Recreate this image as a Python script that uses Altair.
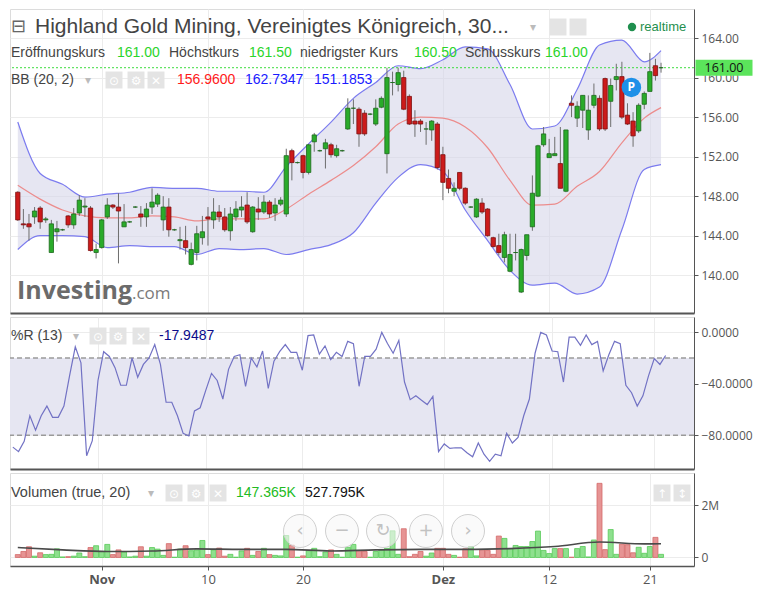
import altair as alt
import pandas as pd
import numpy as np

FONT = "Open Sans"
HFONT = "Liberation Sans"
GLYPH = "DejaVu Sans"

# ---------------- data ----------------
opens = [148.4,145.2,145.2,145.9,146.8,145.6,142.3,144.4,144.6,146.0,
         145.1,146.3,146.9,146.8,142.3,142.8,145.9,147.1,146.9,144.9,
         145.4,146.9,146.2,145.9,146.9,147.2,145.6,146.9,144.6,143.5,
         143.5,141.1,142.3,143.8,145.9,145.6,146.4,145.9,144.5,145.9,
         146.6,147.1,144.4,146.7,146.4,147.4,146.3,147.2,146.2,152.6,
         151.4,152.1,150.4,153.5,152.6,152.8,153.2,152.1,152.6,154.8,
         156.9,156.8,156.4,156.3,155.3,157.0,152.3,159.5,159.3,160.0,
         158.1,155.6,155.6,154.8,154.7,155.3,152.2,149.8,148.5,150.4,
         148.8,146.9,145.9,147.3,146.7,143.8,143.0,141.8,140.4,142.3,
         138.3,142.0,144.9,148.0,153.2,151.9,152.1,151.3,148.5,157.4,
         155.9,156.7,154.7,157.2,157.9,159.9,157.6,159.8,160.1,156.2,
         155.6,154.6,157.3,158.6,161.2,161.0]
highs = [148.5,146.7,146.2,146.9,147.0,145.9,145.6,145.5,144.7,146.1,
         146.8,148.1,147.8,147.0,143.2,145.7,147.8,147.2,148.3,147.2,
         145.5,147.0,147.0,147.3,148.8,148.3,148.0,147.8,144.7,144.9,
         145.0,143.3,145.0,146.0,146.9,147.8,147.1,146.8,146.9,147.5,
         148.0,148.4,147.0,147.9,148.1,147.6,147.8,147.9,152.8,152.8,
         151.5,152.2,153.3,154.4,152.7,153.8,153.4,153.2,152.7,157.9,
         157.8,157.0,156.7,156.4,157.8,158.1,161.0,160.6,161.0,160.7,
         158.3,156.7,155.8,155.5,155.7,155.5,153.0,150.7,149.4,150.4,
         148.9,147.0,147.8,147.8,146.8,143.9,144.2,144.4,144.2,144.2,
         142.7,144.1,150.1,153.2,155.0,153.8,154.0,155.0,154.7,158.2,
         157.6,158.2,158.2,159.4,158.2,160.0,159.9,161.4,161.6,157.4,
         156.5,157.4,158.6,162.5,161.9,161.5]
lows = [145.5,144.7,143.5,145.2,144.7,145.3,142.3,143.4,144.5,144.8,
        144.7,146.0,145.9,142.4,141.7,142.7,145.7,146.7,141.2,144.9,
        145.3,146.8,144.9,144.9,146.2,146.9,144.5,143.9,144.5,142.6,
        142.1,141.0,141.5,143.1,143.0,144.7,145.4,144.4,143.5,145.5,
        145.9,145.2,144.3,145.6,146.2,145.8,145.5,147.0,145.9,149.6,
        151.3,149.8,150.2,152.5,152.5,150.8,151.9,151.9,152.5,154.7,
        155.3,153.0,154.1,156.2,155.1,156.9,150.3,158.2,158.6,156.7,
        155.2,154.0,154.5,153.2,153.6,150.7,147.6,148.3,148.0,148.6,
        147.1,146.8,145.8,146.2,143.9,142.8,142.0,141.3,140.3,141.5,
        138.2,141.5,144.5,147.9,153.0,151.9,152.1,148.8,148.4,156.0,
        155.0,154.9,153.7,156.9,154.6,154.6,155.0,158.7,155.8,155.2,
        153.0,154.4,156.8,158.6,159.7,160.5]
closes = [145.6,145.1,144.9,146.5,145.4,145.7,145.2,144.7,144.6,145.1,
          146.2,147.6,147.0,142.5,142.6,145.6,147.1,146.9,146.5,145.4,
          145.4,146.9,145.9,146.7,147.4,148.1,146.9,144.6,144.6,143.6,
          142.8,142.6,144.2,144.4,145.7,146.4,145.9,144.6,146.2,146.7,
          146.9,145.4,146.9,146.4,147.4,146.2,147.1,147.6,152.1,151.4,
          151.4,150.4,153.2,154.2,152.6,153.4,152.2,152.8,152.6,156.9,
          156.9,154.3,154.3,156.3,156.9,157.9,160.0,159.5,160.5,156.8,
          155.3,155.3,155.3,154.8,155.6,150.9,149.4,148.8,148.8,148.8,
          147.3,146.9,147.7,146.4,144.0,142.9,142.3,144.1,142.1,142.3,
          142.6,144.1,148.3,153.1,154.3,152.3,152.3,148.8,154.7,157.2,
          157.1,158.2,156.7,158.2,154.8,154.8,159.2,160.1,156.0,155.3,
          154.1,157.2,158.4,160.6,160.2,161.0]
volumes_m = [0.11,0.23,0.41,0.05,0.18,0.11,0.12,0.33,0.02,0.03,
             0.05,0.17,0.03,0.38,0.45,0.23,0.50,0.11,0.29,0.21,
             0.02,0.05,0.41,0.05,0.38,0.32,0.08,0.53,0.01,0.32,
             0.45,0.26,0.29,0.65,0.11,0.29,0.36,0.05,0.12,0.01,
             0.25,0.35,0.08,0.23,0.35,0.11,0.08,0.06,0.84,0.47,
             0.01,0.06,0.26,0.35,0.03,0.21,0.29,0.12,0.01,0.39,
             0.50,0.26,0.23,0.01,0.23,0.29,0.35,1.02,0.12,1.10,
             0.03,0.12,0.23,0.05,0.17,0.35,0.35,0.12,0.08,0.01,
             0.33,0.42,0.06,0.30,0.27,0.12,0.82,0.73,0.34,0.46,
             0.42,0.42,0.61,1.01,0.27,0.15,0.34,0.34,0.34,0.01,
             0.34,0.42,0.02,0.67,2.84,0.30,1.07,0.12,0.51,0.49,
             0.18,0.39,0.16,0.42,0.77,0.12]
williams_r = [-89.2,-92.7,-84.7,-64.8,-76.0,-64.8,-57.3,-66.0,-66.0,-57.3,
              -33.6,-11.2,-23.7,-95.9,-84.2,-37.4,-15.0,-18.7,-27.4,-41.1,
              -41.1,-19.9,-34.9,-24.9,-19.9,-9.5,-24.9,-54.3,-54.3,-64.8,
              -78.5,-80.5,-61.1,-58.6,-44.9,-31.9,-37.4,-51.8,-28.7,-18.7,
              -17.4,-41.9,-19.9,-26.9,-14.5,-43.6,-22.4,-15.0,-9.5,-15.5,
              -15.5,-29.4,-2.5,-2.0,-16.9,-10.5,-21.2,-15.5,-18.7,-7.0,
              -8.7,-41.9,-18.7,-18.7,-13.0,0.0,-8.7,-16.2,-6.2,-38.6,
              -52.3,-49.3,-52.8,-56.1,-49.8,-92.7,-86.7,-90.2,-89.7,-89.7,
              -93.5,-96.7,-86.0,-94.7,-100.2,-94.7,-95.9,-78.5,-86.0,-81.7,
              -64.8,-51.8,-16.2,0.0,-2.0,-14.5,-15.0,-38.6,-3.7,-3.7,
              -10.0,-2.0,-9.5,-7.0,-29.9,-17.4,-7.0,-8.7,-41.1,-46.9,
              -57.3,-49.3,-33.6,-20.4,-24.9,-17.9487]

bb_idx = [0,4,8,12,16,20,24,28,32,36,40,44,48,52,56,60,64,68,72,76,
          80,84,88,92,96,100,104,108,112,115]
bb_upper = [155.5,150.3,149.2,147.9,148.2,148.4,148.9,148.8,148.8,148.5,
            148.5,148.4,151.0,153.3,155.5,157.9,159.5,161.2,160.9,161.8,
            163.1,162.9,159.3,154.8,155.1,158.8,163.3,163.8,161.6,162.7347]
bb_mid = [149.1,147.7,146.6,146.0,145.8,145.8,146.0,145.9,145.5,145.7,
          145.7,145.7,146.7,148.2,149.6,151.1,153.0,155.3,156.0,155.9,
          155.0,152.9,149.6,147.1,147.2,149.0,150.5,153.4,155.9,156.96]
bb_lower = [142.6,144.0,144.0,143.9,142.8,143.0,142.9,142.9,142.1,142.7,
            142.6,142.7,142.1,142.6,143.1,144.3,147.3,149.9,151.2,150.5,
            146.6,143.5,140.5,139.0,139.2,138.1,138.8,144.6,150.7,151.1853]

vol_ma_idx = [0,8,16,24,32,40,48,56,64,72,80,88,96,104,112,115]
vol_ma_m = [0.38,0.29,0.23,0.25,0.33,0.31,0.31,0.25,0.29,0.31,
            0.31,0.34,0.42,0.59,0.52,0.527795]

tick_idx = [15, 34, 51, 76, 95, 113]
tick_labels = ["Nov", "10", "20", "Dez", "12", "21"]
price_ticks = [140, 144, 148, 152, 156, 160, 164]
wr_ticks = [0, -40, -80]
wr_levels = [-20, -80]
vol_ticks = [0, 2000000]

title_text = "Highland Gold Mining, Vereinigtes Königreich, 30..."
ohlc_names = ["Eröffnungskurs", "Höchstkurs", "niedrigster Kurs", "Schlusskurs"]
ohlc_vals = ["161.00", "161.50", "160.50", "161.00"]
bb_vals = ["156.9600", "162.7347", "151.1853"]
wr_val = "-17.9487"
vol_vals = ["147.365K", "527.795K"]

# ---------------- frames ----------------
n = len(opens)
df = pd.DataFrame({"i": np.arange(n), "open": opens, "high": highs,
                   "low": lows, "close": closes,
                   "vol": np.array(volumes_m) * 1e6, "wr": williams_r})
df["dir"] = np.where(df["close"] >= df["open"], "up", "down")
bbdf = pd.DataFrame({"i": bb_idx, "upper": bb_upper, "mid": bb_mid, "lower": bb_lower})
madf = pd.DataFrame({"i": vol_ma_idx, "ma": np.array(vol_ma_m) * 1e6})
lastdf = pd.DataFrame({"last": [closes[-1]]})
ONE = pd.DataFrame({"k": [0]})

W = 684
H1, H2, H3 = 304, 152, 93
TS = 14  # header text size

# ---------------- axes / scales ----------------
xscale = alt.Scale(domain=[-0.5, 120], nice=False, zero=False)
lab_expr = "''"
for v, l in reversed(list(zip(tick_idx, tick_labels))):
    lab_expr = f"datum.value == {v} ? '{l}' : {lab_expr}"
bold_test = " || ".join(f"datum.value == {v}" for v, l in zip(tick_idx, tick_labels) if not l.isdigit())

x_axis_sep = alt.Axis(values=tick_idx, labels=False, ticks=False, domain=True,
                      domainColor="#555", domainWidth=2, grid=True, gridColor="#ececec",
                      title=None)
x_axis_bottom = alt.Axis(values=tick_idx, labelExpr=lab_expr, grid=True, gridColor="#ececec",
                         domainColor="#555", domainWidth=1.5, tickColor="#555", tickSize=4,
                         labelFont=FONT, labelFontSize=13, labelColor="#555",
                         labelFontWeight={"condition": {"test": bold_test, "value": "bold"},
                                          "value": "normal"},
                         labelPadding=3, title=None)

def yaxis(values, fmt=None, expr=None):
    kw = dict(orient="right", values=values, grid=True, gridColor="#ececec",
              domainColor="#555", tickColor="#555", tickSize=4, labelColor="#555",
              labelFont=FONT, labelFontSize=12, labelPadding=3, title=None)
    if fmt:
        kw["format"] = fmt
    if expr:
        kw["labelExpr"] = expr
    return alt.Axis(**kw)

p_scale = alt.Scale(domain=[136.18, 166.94], nice=False, zero=False)
p_axis = yaxis(price_ticks, fmt=".2f")
w_scale = alt.Scale(domain=[-106.2, 11.96], nice=False, zero=False)
w_axis = yaxis(wr_ticks, fmt=".4f")
v_scale = alt.Scale(domain=[-0.327e6, 3.236e6], nice=False, zero=False)
v_axis = yaxis(vol_ticks, expr="datum.value == 0 ? '0' : format(datum.value / 1000000, 'd') + 'M'")

def PX(ax):
    return alt.X("i:Q", scale=xscale, axis=ax)

def PY(field):
    return alt.Y(field, scale=p_scale, axis=p_axis)

# ---------------- helpers for header texts / icons ----------------
def txt(s, x, y, color="#444", size=TS, weight="normal", font=HFONT, align="left"):
    return alt.Chart(ONE).mark_text(text=s, align=align, baseline="middle", color=color,
                                    fontSize=size, fontWeight=weight, font=font).encode(
        x=alt.value(x), y=alt.value(y))

def box(x, y, side=17, color="#e4e4e4"):
    return alt.Chart(ONE).mark_square(size=side * side, color=color, opacity=1).encode(
        x=alt.value(x), y=alt.value(y))

def icons(xs, y, glyphs):
    out = []
    for x, g in zip(xs, glyphs):
        out.append(box(x, y))
        out.append(txt(g, x, y + 1, color="white", size=12, font=GLYPH, align="center"))
    return out

# ---------------- price panel ----------------
band = alt.Chart(bbdf).mark_area(color="#d5d5ea", opacity=0.6, interpolate="monotone").encode(
    x=PX(x_axis_sep), y=PY("lower:Q"), y2="upper:Q")
up_line = alt.Chart(bbdf).mark_line(color="#7b7bef", strokeWidth=1.2, interpolate="monotone").encode(
    x=PX(x_axis_sep), y=PY("upper:Q"))
lo_line = alt.Chart(bbdf).mark_line(color="#7b7bef", strokeWidth=1.2, interpolate="monotone").encode(
    x=PX(x_axis_sep), y=PY("lower:Q"))
mid_line = alt.Chart(bbdf).mark_line(color="#ec8c8c", strokeWidth=1.2, interpolate="monotone").encode(
    x=PX(x_axis_sep), y=PY("mid:Q"))
last_rule = alt.Chart(lastdf).mark_rule(color="#3ddc3d", strokeDash=[2, 2], strokeWidth=1).encode(
    y=PY("last:Q"))
wicks = alt.Chart(df).mark_rule(color="#6e6e6e", strokeWidth=1).encode(
    x=PX(x_axis_sep), y=PY("low:Q"), y2="high:Q")
bodies = alt.Chart(df).mark_bar(size=4.3, strokeWidth=0.8).encode(
    x=PX(x_axis_sep), y=PY("open:Q"), y2="close:Q",
    color=alt.Color("dir:N", scale=alt.Scale(domain=["up", "down"], range=["#2aab2a", "#cc1b1b"]), legend=None),
    stroke=alt.Stroke("dir:N", scale=alt.Scale(domain=["up", "down"], range=["#1d6a1d", "#7d0f0f"]), legend=None))
price_box = alt.Chart(lastdf).mark_tick(orient="horizontal", size=57, thickness=16,
                                        color="#5be45b", opacity=1).encode(
    x=alt.value(W + 30), y=PY("last:Q"))
price_box_txt = alt.Chart(lastdf).mark_text(font=FONT, fontSize=12.5, color="#111").encode(
    x=alt.value(W + 30), y=PY("last:Q"), text=alt.Text("last:Q", format=".2f"))

pdf = pd.DataFrame({"i": [109.7], "p": [159.0]})
p_dot = alt.Chart(pdf).mark_circle(size=380, color="#1e90e8", opacity=1).encode(
    x=PX(x_axis_sep), y=PY("p:Q"))
p_txt = alt.Chart(pdf).mark_text(text="P", color="white", fontWeight="bold", fontSize=12, font=FONT).encode(
    x=PX(x_axis_sep), y=PY("p:Q"))

hdr = [
    txt("⊟", 8.5, 18, color="#666", size=18, font=GLYPH, align="center"),
    txt(title_text, 25, 18, color="#444", size=21),
    txt("▾", 523, 18, color="#bbb", size=12, font=GLYPH, align="center"),
    box(548, 18), box(568, 18),
    alt.Chart(ONE).mark_circle(size=70, color="#1f8f4e", opacity=1).encode(x=alt.value(622), y=alt.value(18)),
    txt("realtime", 630, 18, color="#1f8f4e", size=13),
]
row2_x = [(1, 107), (159, 239), (290, 404), (455, 535)]
for (xa, xb), name, val in zip(row2_x, ohlc_names, ohlc_vals):
    hdr.append(txt(name, xa, 44, color="#444"))
    hdr.append(txt(val, xb, 44, color="#2ad42a"))
hdr += [txt("BB (20, 2)", 1, 71, color="#444"),
        txt("▾", 78, 71, color="#bbb", size=12, font=GLYPH, align="center")]
hdr += icons([104, 126, 146], 71, ["⊙", "⚙", "✕"])
for x, val, col in zip([167, 235, 304], bb_vals, ["#ff1a1a", "#1a1aff", "#1a1aff"]):
    hdr.append(txt(val, x, 71, color=col))
hdr += [txt("Investing", 7, 282, color="#6b6b6b", size=25, weight="bold", font=FONT),
        txt(".com", 122, 285, color="#7a7a7a", size=17, font=FONT)]

price = alt.layer(band, up_line, lo_line, mid_line, last_rule, wicks, bodies,
                  p_dot, p_txt, price_box, price_box_txt, *hdr).properties(width=W, height=H1)

# ---------------- Williams %R panel ----------------
lvl_df = pd.DataFrame({"top": [wr_levels[0]], "bot": [wr_levels[1]]})
lvl_rules = pd.DataFrame({"lvl": wr_levels})
wr_band = alt.Chart(lvl_df).mark_rect(color="#e6e6f2", opacity=1).encode(
    x=alt.value(0), x2=alt.value(W), y=alt.Y("top:Q", scale=w_scale, axis=w_axis), y2="bot:Q")
wr_rules = alt.Chart(lvl_rules).mark_rule(color="#9a9a9a", strokeDash=[5, 3], strokeWidth=1.5).encode(
    y=alt.Y("lvl:Q", scale=w_scale, axis=w_axis))
wr_line = alt.Chart(df).mark_line(color="#7272c4", strokeWidth=1.2).encode(
    x=PX(x_axis_sep), y=alt.Y("wr:Q", scale=w_scale, axis=w_axis))
wr_hdr = [txt("%R (13)", 1, 19, color="#444"),
          txt("▾", 66, 19, color="#bbb", size=12, font=GLYPH, align="center")]
wr_hdr += icons([88, 108, 131], 19, ["⊙", "⚙", "✕"])
wr_hdr.append(txt(wr_val, 149, 19, color="#0a0a8a"))
wr_panel = alt.layer(wr_band, wr_rules, wr_line, *wr_hdr).properties(width=W, height=H2)

# ---------------- volume panel ----------------
vbars = alt.Chart(df).mark_bar(size=5, strokeWidth=0.8).encode(
    x=PX(x_axis_bottom), y=alt.Y("vol:Q", scale=v_scale, axis=v_axis), y2=alt.datum(0),
    color=alt.Color("dir:N", scale=alt.Scale(domain=["up", "down"], range=["#8ee08e", "#e69494"]), legend=None),
    stroke=alt.Stroke("dir:N", scale=alt.Scale(domain=["up", "down"], range=["#58ca58", "#d46a6a"]), legend=None))
vma = alt.Chart(madf).mark_line(color="#4a4a4a", strokeWidth=1.6, interpolate="monotone").encode(
    x=PX(x_axis_bottom), y=alt.Y("ma:Q", scale=v_scale, axis=v_axis))
v_hdr = [txt("Volumen (true, 20)", 1, 20, color="#444", size=14.5),
         txt("▾", 141, 20, color="#bbb", size=12, font=GLYPH, align="center")]
v_hdr += icons([164, 186, 208], 20, ["⊙", "⚙", "✕"])
v_hdr += [txt(vol_vals[0], 226, 20, color="#22bb22"),
          txt(vol_vals[1], 295, 20, color="#111")]
v_hdr += icons([652, 672], 20, ["↑", "↕"])
for x, g in zip([290, 332, 373, 416, 458], ["‹", "−", "↻", "+", "›"]):
    v_hdr.append(alt.Chart(ONE).mark_point(shape="circle", size=1089, filled=False, fill="#f6f6f6",
                                           fillOpacity=0.6, stroke="#d0d0d0", strokeWidth=1).encode(
        x=alt.value(x), y=alt.value(58)))
    v_hdr.append(txt(g, x, 58, color="#c2c2c2", size=18, font=GLYPH, align="center"))
vol_panel = alt.layer(vbars, vma, *v_hdr).properties(width=W, height=H3)

chart = alt.vconcat(price, wr_panel, vol_panel, spacing=2).resolve_scale(
    color="independent", stroke="independent"
).properties(
    padding=0, background="white"
).configure_view(stroke="#dcdcdc", strokeWidth=1)

chart.save("out.html", embed_options={"renderer": "svg", "actions": False})
